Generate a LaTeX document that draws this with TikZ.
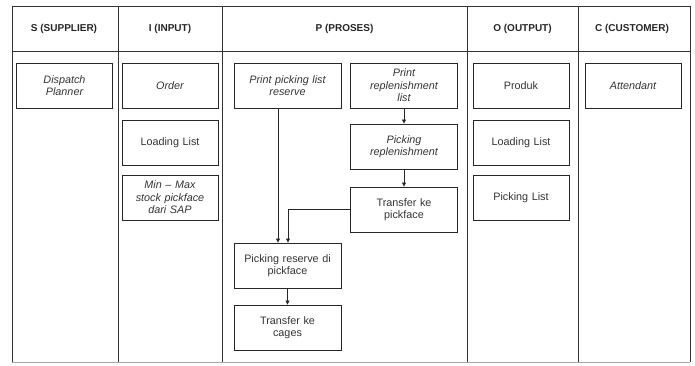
\documentclass[tikz,border=0pt]{standalone}
\usepackage{fontspec}
\setmainfont{Liberation Sans}
\usetikzlibrary{arrows.meta}

\tikzset{
  frame/.style={draw=black!80, line width=1pt},
  lane/.style={font=\bfseries\fontsize{10}{12}\selectfont, text=black!85},
  boxfont/.style={font=\fontsize{10.8}{12.5}\selectfont},
  itfont/.style={font=\itshape\fontsize{10.8}{12.5}\selectfont},
  procbox/.style={draw=black!85, line width=0.9pt, rectangle, minimum height=45pt,
    align=center, inner sep=1pt, boxfont, text=black!80},
  narrow/.style={procbox, minimum width=96pt, text width=92pt},
  wide/.style={procbox, minimum width=107pt, text width=103pt},
  flow/.style={draw=black!85, line width=0.8pt, -{Triangle[length=4pt,width=4pt]}}
}

\begin{document}
\begin{tikzpicture}[x=1pt, y=-1pt]
  \useasboundingbox (0,0) rectangle (695,365);

  % table frame and lanes
  \draw[frame] (12,362) -- (12,6) -- (690,6) -- (690,362);
  \draw[draw=black!35, line width=0.6pt] (12,362) -- (690,362);
  \draw[frame] (12,51) -- (690,51);
  \foreach \xx in {118,222,467,578}
    \draw[frame] (\xx,6) -- (\xx,362);

  % lane headings
  \node[lane] (hS) at (64,28.5) {S (SUPPLIER)};
  \node[lane] (hI) at (170,28.5) {I (INPUT)};
  \node[lane] (hP) at (344.5,28.5) {P (PROSES)};
  \node[lane] (hO) at (522.5,28.5) {O (OUTPUT)};
  \node[lane] (hC) at (632,28.5) {C (CUSTOMER)};

  % supplier
  \node[narrow, itfont] (disp) at (64.5,85.5) {Dispatch\\Planner};

  % input
  \node[narrow, itfont] (order) at (170,85.5) {Order};
  \node[narrow] (loadI) at (170,142.5) {Loading List};
  \node[narrow, itfont] (minmax) at (170,197.5) {Min -- Max\\stock pickface\\dari SAP};

  % process
  \node[wide, itfont] (prl) at (287.5,85.5) {Print picking list\\reserve};
  \node[wide, itfont] (prepl) at (404,85.5) {Print\\replenishment\\list};
  \node[wide, itfont] (pickrep) at (404,146.5) {Picking\\replenishment};
  \node[wide] (tpf) at (404,209.5) {Transfer ke\\pickface};
  \node[wide] (pres) at (287.5,265.5) {Picking reserve di\\pickface};
  \node[wide] (tcg) at (287.5,327.5) {Transfer ke\\cages};

  % output
  \node[narrow] (produk) at (521,85.5) {Produk};
  \node[narrow] (loadO) at (521,142.5) {Loading List};
  \node[narrow] (pickl) at (521,197.5) {Picking List};

  % customer
  \node[narrow, itfont] (att) at (633,85.5) {Attendant};

  % flow
  \draw[flow] ([xshift=-9.5pt]prl.south) -- ([xshift=-9.5pt]pres.north);
  \draw[flow] (tpf.west) -| ([xshift=0.5pt]pres.north);
  \draw[flow] (prepl.south) -- (pickrep.north);
  \draw[flow] (pickrep.south) -- (tpf.north);
  \draw[flow] (pres.south) -- (tcg.north);
\end{tikzpicture}
\end{document}
